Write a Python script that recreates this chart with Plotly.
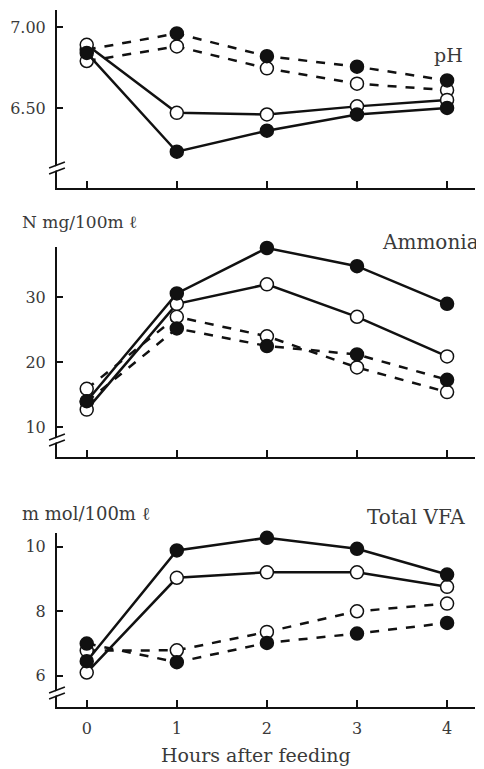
import plotly.graph_objects as go

hours = [0, 1, 2, 3, 4]
hour_labels = ["0", "1", "2", "3", "4"]

# pH
ph_solid_filled = [6.84, 6.23, 6.36, 6.46, 6.50]
ph_solid_open = [6.89, 6.47, 6.46, 6.51, 6.55]
ph_dashed_filled = [6.86, 6.96, 6.82, 6.755, 6.67]
ph_dashed_open = [6.79, 6.88, 6.745, 6.65, 6.61]
ph_ticks = [6.50, 7.00]
ph_tick_labels = ["6.50", "7.00"]

# Ammonia (N mg/100 ml)
nh_solid_filled = [14.0, 30.6, 37.6, 34.8, 29.0]
nh_solid_open = [12.7, 29.0, 32.0, 27.0, 20.9]
nh_dashed_filled = [13.9, 25.2, 22.5, 21.2, 17.3]
nh_dashed_open = [15.9, 27.0, 24.0, 19.2, 15.4]
nh_ticks = [10, 20, 30]

# Total VFA (m mol/100 ml)
vfa_solid_filled = [6.45, 9.89, 10.28, 9.94, 9.14]
vfa_solid_open = [6.1, 9.04, 9.21, 9.21, 8.76]
vfa_dashed_filled = [7.0, 6.42, 7.02, 7.31, 7.64]
vfa_dashed_open = [6.78, 6.79, 7.36, 8.0, 8.24]
vfa_ticks = [6, 8, 10]

FONT = "DejaVu Serif"
INK = "#111111"
TXT = "#3a3a3a"

OFF = 8  # page body margin
WIN_W, WIN_H = 484, 769
W, H = WIN_W - OFF, WIN_H - OFF
# window-pixel positions of plot area
AX_L, AX_R, AX_T, AX_B = 52, 475, 10, 707
L, R, T, B = AX_L - OFF, WIN_W - AX_R, AX_T - OFF, WIN_H - AX_B
PW, PH = AX_R - AX_L, AX_B - AX_T


def px_x(x):
    return (x - AX_L) / PW


def px_y(y):
    return (AX_B - y) / PH


fig = go.Figure()


def add_series(ys, yaxis, xaxis, filled, dashed):
    fig.add_trace(go.Scatter(
        x=hours, y=ys, xaxis=xaxis, yaxis=yaxis,
        mode="lines+markers",
        line=dict(color=INK, width=2.5, dash="dash" if dashed else "solid"),
        marker=dict(size=13, symbol="circle",
                    color=INK if filled else "white",
                    line=dict(color=INK, width=1.5)),
        showlegend=False, cliponaxis=False,
    ))


panels = [
    ("x", "y", ph_dashed_open, ph_dashed_filled, ph_solid_open, ph_solid_filled),
    ("x2", "y2", nh_dashed_open, nh_dashed_filled, nh_solid_open, nh_solid_filled),
    ("x3", "y3", vfa_dashed_open, vfa_dashed_filled, vfa_solid_open, vfa_solid_filled),
]
for xa, ya, d_open, d_filled, s_open, s_filled in panels:
    add_series(d_open, ya, xa, False, True)
    add_series(d_filled, ya, xa, True, True)
    add_series(s_open, ya, xa, False, False)
    add_series(s_filled, ya, xa, True, False)

doms = [
    [px_y(188), px_y(10)],
    [px_y(457), px_y(246.7)],
    [px_y(707), px_y(533)],
]

xcommon = dict(range=[-0.33, 4.31], showline=True, linecolor=INK, linewidth=2,
               ticks="inside", ticklen=7, tickwidth=1.5, tickcolor=INK,
               tickvals=hours, ticktext=hour_labels, showgrid=False, zeroline=False,
               domain=[0, 1], tickfont=dict(family=FONT, size=16, color=TXT))
ycommon = dict(showline=True, linecolor=INK, linewidth=2, ticks="inside",
               ticklen=6, tickwidth=1.5, tickcolor=INK, showgrid=False,
               zeroline=False, tickfont=dict(family=FONT, size=16, color=TXT),
               ticklabelstandoff=6)

fig.update_layout(
    width=W, height=H,
    margin=dict(l=L, r=R, t=T, b=B),
    paper_bgcolor="white", plot_bgcolor="white",
    xaxis=dict(xcommon, anchor="y", showticklabels=False),
    xaxis2=dict(xcommon, anchor="y2", showticklabels=False),
    xaxis3=dict(xcommon, anchor="y3", showticklabels=True, ticklabelstandoff=6),
    yaxis=dict(ycommon, anchor="x", domain=doms[0], range=[6.006, 7.105],
               tickvals=ph_ticks, ticktext=ph_tick_labels),
    yaxis2=dict(ycommon, anchor="x2", domain=doms[1], range=[5.4, 37.8],
                tickvals=nh_ticks),
    yaxis3=dict(ycommon, anchor="x3", domain=doms[2], range=[5.03, 10.43],
                tickvals=vfa_ticks),
)

# axis break marks
shapes = []
for c in [168, 440, 693]:
    shapes.append(dict(type="line", xref="paper", yref="paper",
                       x0=px_x(46), y0=px_y(c + 2), x1=px_x(58), y1=px_y(c - 2),
                       line=dict(color="white", width=4), layer="above"))
    for off in (-3, 3):
        shapes.append(dict(type="line", xref="paper", yref="paper",
                           x0=px_x(44), y0=px_y(c + off + 3), x1=px_x(60), y1=px_y(c + off - 3),
                           line=dict(color=INK, width=1.5), layer="above"))
fig.update_layout(shapes=shapes)

ann = [
    dict(text="pH", x=px_x(448), y=px_y(55), xanchor="center", yanchor="middle", size=19),
    dict(text="Ammonia", x=px_x(481), y=px_y(242), xanchor="right", yanchor="middle", size=20),
    dict(text="N mg/100m ℓ", x=px_x(15), y=px_y(222), xanchor="left", yanchor="middle", size=17),
    dict(text="m mol/100m ℓ", x=px_x(15), y=px_y(513), xanchor="left", yanchor="middle", size=18),
    dict(text="Total VFA", x=px_x(467), y=px_y(517), xanchor="right", yanchor="middle", size=20),
    dict(text="Hours after feeding", x=px_x(253), y=px_y(755), xanchor="center", yanchor="middle", size=19),
]
for a in ann:
    fig.add_annotation(text=a["text"], x=a["x"], y=a["y"], xref="paper", yref="paper",
                       xanchor=a["xanchor"], yanchor=a["yanchor"], showarrow=False,
                       font=dict(family=FONT, size=a["size"], color=TXT))

fig.write_html("out.html")
